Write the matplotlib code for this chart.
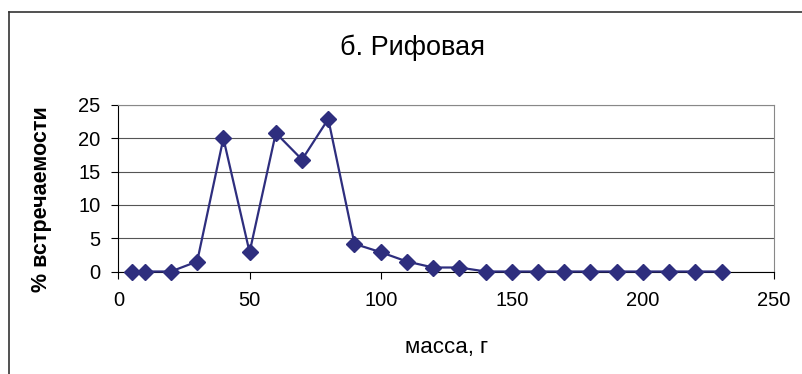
import matplotlib
matplotlib.use("Agg")
import matplotlib.pyplot as plt
from matplotlib.lines import Line2D

mass = [5, 10, 20, 30, 40, 50, 60, 70, 80, 90, 100, 110, 120, 130, 140, 150,
        160, 170, 180, 190, 200, 210, 220, 230]
freq = [0, 0, 0, 1.5, 20, 2.9, 20.8, 16.8, 22.9, 4.15, 2.9, 1.5, 0.6, 0.6, 0, 0,
        0, 0, 0, 0, 0, 0, 0, 0]
xticks = [0, 50, 100, 150, 200, 250]
yticks = [0, 5, 10, 15, 20, 25]

plt.rcParams['font.family'] = ['Liberation Sans', 'DejaVu Sans']

W, H = 803, 374
fig = plt.figure(figsize=(W/100, H/100), dpi=100)
ax = fig.add_axes([118.5/W, 1-271.5/H, (774-118.5)/W, (271.5-105)/H])

ax.plot(mass, freq, color='#2E2E7E', lw=1.6, marker='D', markersize=8.5,
        markerfacecolor='#2E2E7E', markeredgecolor='#2E2E7E', clip_on=False, zorder=3)
ax.set_xlim(0, 250)
ax.set_ylim(0, 25)
ax.set_xticks(xticks)
ax.set_yticks(yticks)
ax.yaxis.grid(True, color='#555555', lw=0.8)
ax.set_axisbelow(True)
for s in ['left', 'bottom']:
    ax.spines[s].set_color('black')
for s in ['top', 'right']:
    ax.spines[s].set_color('#888888')
ax.tick_params(direction='out', length=5, labelsize=14.5, colors='black')
ax.tick_params(axis='y', pad=8)
ax.tick_params(axis='x', pad=9)

fig.text(447/W, 1-353/H, 'масса, г', fontsize=16, ha='center', va='baseline')
fig.text(42/W, 1-199/H, '% встречаемости', fontsize=15.5, fontweight='bold',
         rotation=90, ha='center', va='center')
fig.text(412/W, 1-55/H, 'б. Рифовая', fontsize=19.5, ha='center', va='baseline')

fig.lines.append(Line2D([8.5/W, 1], [1-12/H, 1-12/H], transform=fig.transFigure,
                        color='#333333', lw=1.2))
fig.lines.append(Line2D([8.5/W, 8.5/W], [0, 1-12/H], transform=fig.transFigure,
                        color='#333333', lw=1.2))
fig.savefig('out.png', dpi=100)
